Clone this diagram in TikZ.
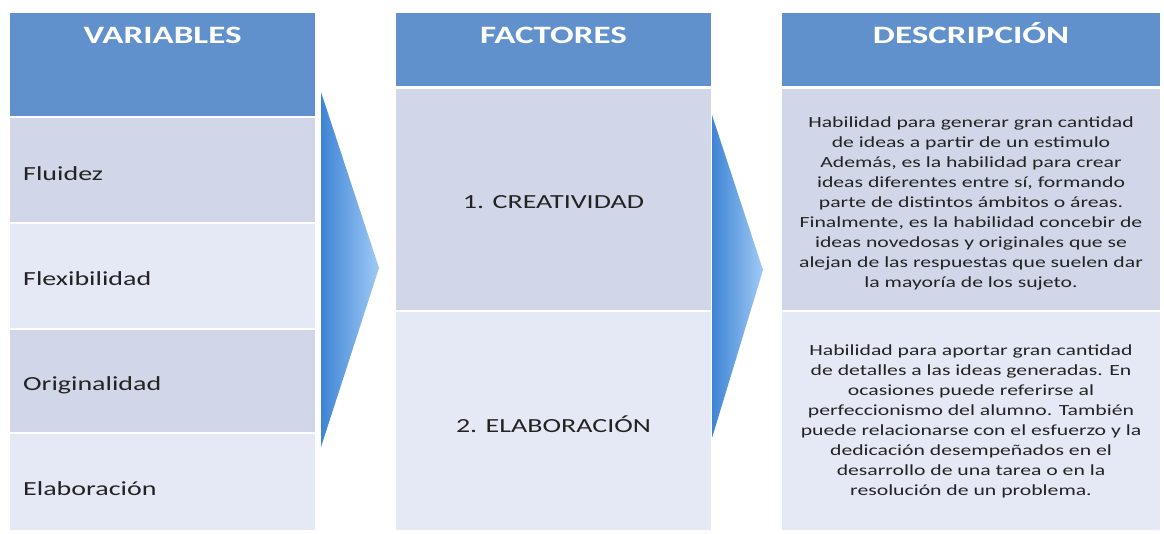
\documentclass[tikz,border=0pt]{standalone}
\usepackage{fontspec}
\setmainfont{Carlito}[FakeStretch=1.4]
\definecolor{hdrblue}{RGB}{96,145,205}
\definecolor{rowdark}{RGB}{209,215,233}
\definecolor{rowlight}{RGB}{229,233,245}
\definecolor{txtgrey}{RGB}{35,35,35}
\definecolor{arrdark}{RGB}{62,132,212}
\definecolor{arrlight}{RGB}{160,202,246}

\begin{document}
\begin{tikzpicture}[x=1pt,y=-1pt,
	hdr/.style={text=white,font=\fontsize{25}{30}\selectfont\bfseries,anchor=base},
	cell/.style={text=txtgrey,font=\fontsize{20}{24}\selectfont,anchor=base west,inner sep=0pt},
	fac/.style={text=txtgrey,font=\fontsize{20}{24}\selectfont,anchor=base},
	desc/.style={text=txtgrey,font=\fontsize{15.5}{20}\selectfont,align=center}]
				\useasboundingbox (0,0) rectangle (1164,533);
				% variables
				\fill[hdrblue] (10,13) rectangle (315,116);
				\fill[rowdark] (10,118) rectangle (315,222);
				\fill[rowlight] (10,224) rectangle (315,328);
				\fill[rowdark] (10,330) rectangle (315,432);
				\fill[rowlight] (10,434) rectangle (315,530);
				\node[hdr] (var) at (162.5,43) {VARIABLES};
				\node[cell] (flu) at (23,180) {Fluidez};
				\node[cell] (flex) at (23,285) {Flexibilidad};
				\node[cell] (orig) at (23,390) {Originalidad};
				\node[cell] (elab) at (23,495) {Elaboración};
				\shade[left color=arrdark,right color=arrlight] (321,92) -- (379,268) -- (321,447) -- cycle;
				% factores
				\fill[hdrblue] (396,13) rectangle (711,86);
				\fill[rowdark] (396,89) rectangle (711,310);
				\fill[rowlight] (396,312) rectangle (711,530);
				\node[hdr] (fac) at (553.5,43) {FACTORES};
				\node[fac] (crea) at (553.5,208) {1. CREATIVIDAD};
				\node[fac] (elabf) at (553.5,432) {2. ELABORACIÓN};
				\shade[left color=arrdark,right color=arrlight] (712,115) -- (763,270) -- (712,438) -- cycle;
				% descripcion
				\fill[hdrblue] (782,13) rectangle (1160,86);
				\fill[rowdark] (782,89) rectangle (1160,310);
				\fill[rowlight] (782,312) rectangle (1160,530);
				\node[hdr] (des) at (971,43) {DESCRIPCIÓN};
				\node[desc] (desa) at (971,203) {Habilidad para generar gran cantidad\\de ideas a partir de un estimulo\\Además, es la habilidad para crear\\ideas diferentes entre sí, formando\\parte de distintos ámbitos o áreas.\\Finalmente, es la habilidad concebir de\\ideas novedosas y originales que se\\alejan de las respuestas que suelen dar\\la mayoría de los sujeto.};
				\node[desc] (desb) at (971,421) {Habilidad para aportar gran cantidad\\de detalles a las ideas generadas. En\\ocasiones puede referirse al\\perfeccionismo del alumno. También\\puede relacionarse con el esfuerzo y la\\dedicación desempeñados en el\\desarrollo de una tarea o en la\\resolución de un problema.};
			\end{tikzpicture}
\end{document}
